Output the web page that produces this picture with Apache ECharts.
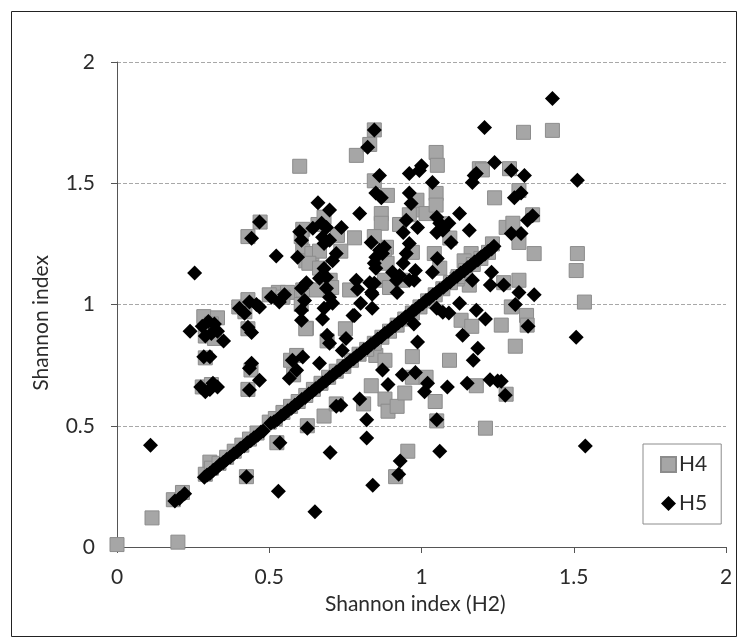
<!DOCTYPE html>
<html>
<head>
<meta charset="utf-8">
<script src="https://cdn.jsdelivr.net/npm/echarts@6/dist/echarts.min.js"></script>
<style>
html,body{margin:0;padding:0;background:#fff;}
#chart{width:744px;height:643px;}
</style>
</head>
<body>
<div id="chart"></div>
<script>
// Axis ticks
const xTicks = [0, 0.5, 1, 1.5, 2];
const yTicks = [0, 0.5, 1, 1.5, 2];
const seriesNames = ['H4', 'H5'];
const xTitle = 'Shannon index (H2)';
const yTitle = 'Shannon index';

// H4 points off the diagonal [H2, H4]
const h4Off = [
[0.00,0.01],[0.115,0.12],[0.20,0.02],
[0.305,0.35],[0.285,0.95],[0.33,0.945],[0.29,0.87],[0.31,0.92],[0.32,0.86],[0.28,0.66],[0.31,0.67],[0.29,0.78],
[0.40,0.99],[0.42,0.97],[0.43,0.90],[0.43,1.02],[0.44,0.73],[0.43,0.65],[0.425,0.29],[0.43,1.28],[0.47,1.34],
[0.525,0.43],[0.53,1.05],[0.56,1.05],[0.50,1.04],[0.545,1.03],
[0.57,0.77],[0.59,0.79],[0.58,0.71],[0.622,0.902],
[0.60,1.57],[0.61,1.31],[0.605,1.28],[0.61,1.22],[0.62,1.18],[0.64,1.21],[0.665,1.22],[0.63,1.17],
[0.605,1.0],[0.62,0.90],[0.61,1.06],[0.625,0.50],[0.655,1.06],[0.665,1.15],
[0.68,0.54],[0.72,0.59],[0.69,0.85],[0.70,1.10],[0.705,1.07],[0.724,1.285],[0.735,1.22],[0.66,1.33],[0.68,1.36],
[0.75,0.90],[0.764,1.06],[0.78,1.275],[0.786,1.615],[0.81,0.59],[0.835,0.665],[0.85,0.79],[0.88,0.77],
[0.845,1.72],[0.83,1.66],[0.845,1.51],[0.888,1.45],[0.868,1.375],[0.868,1.335],[0.885,1.236],[0.878,1.195],[0.887,1.17],[0.878,1.10],[0.895,1.07],[0.845,1.28],
[0.88,0.61],[0.89,0.56],[0.92,0.58],[0.945,0.635],[0.97,0.70],[1.015,0.70],[0.97,0.785],[0.955,0.395],[0.915,0.29],
[0.928,1.33],[0.977,1.39],[0.97,1.215],[0.934,1.10],[0.96,1.37],[0.985,1.43],[1.015,1.375],
[1.048,1.627],[1.052,1.574],[1.048,1.458],[1.048,1.41],[1.07,1.333],[1.042,1.21],[1.06,1.15],[1.093,1.274],
[1.045,0.60],[1.05,0.52],[1.092,0.77],[1.13,0.935],[1.165,0.91],[1.18,0.665],[1.21,0.49],
[1.19,1.56],[1.2,1.555],[1.24,1.44],[1.233,1.25],[1.278,1.318],[1.163,1.21],[1.14,1.18],[1.157,1.08],[1.117,1.105],
[1.289,1.56],[1.32,1.47],[1.365,1.37],[1.30,1.335],[1.32,1.256],[1.37,1.21],[1.32,1.10],[1.27,1.09],
[1.335,1.71],[1.43,1.718],[1.512,1.21],[1.508,1.14],[1.535,1.01],
[1.295,0.99],[1.345,0.955],[1.347,0.915],[1.262,0.915],[1.308,0.828],[1.278,0.63]
];

// H4 points on/near the diagonal
const h4Diag = [
[0.185,0.195],[0.215,0.225],[0.29,0.3],[0.31,0.325],[0.335,0.345],[0.36,0.37],[0.385,0.395],[0.41,0.42],[0.435,0.445],[0.46,0.47],
[0.5,0.515],[0.52,0.53],[0.545,0.555],[0.57,0.58],[0.595,0.6],[0.62,0.625],[0.645,0.65],[0.67,0.675],[0.695,0.7],[0.72,0.725],
[0.745,0.745],[0.77,0.77],[0.795,0.795],[0.82,0.815],[0.845,0.84],[0.87,0.865],[0.895,0.89],[0.92,0.915],[0.945,0.94],[0.97,0.965],
[0.995,0.99],[1.02,1.015],[1.045,1.04],[1.07,1.065],[1.095,1.09],[1.12,1.115],[1.145,1.14],[1.17,1.165],[1.195,1.19],[1.22,1.215]
];

// H5 points off the diagonal [H2, H5]
const h5Off = [
[0.11,0.42],[0.255,1.13],[0.24,0.89],
[0.28,0.91],[0.30,0.93],[0.32,0.92],[0.33,0.89],[0.35,0.85],[0.29,0.87],[0.31,0.88],
[0.285,0.785],[0.305,0.785],
[0.275,0.66],[0.29,0.64],[0.315,0.675],[0.33,0.66],[0.305,0.65],
[0.402,0.985],[0.419,0.964],[0.435,1.01],[0.458,1.0],[0.468,0.99],[0.507,1.03],[0.533,1.01],[0.55,1.04],
[0.43,0.906],[0.442,0.885],
[0.442,1.273],[0.468,1.34],
[0.442,0.758],[0.435,0.737],[0.468,0.688],[0.435,0.647],
[0.425,0.29],[0.535,0.43],[0.53,0.23],
[0.523,1.2],
[0.576,0.77],[0.61,0.783],[0.59,0.729],[0.566,0.696],
[0.593,1.195],[0.6,1.3],[0.606,1.265],
[0.606,1.067],[0.622,1.09],[0.616,1.017],[0.606,0.976],[0.606,0.935],
[0.625,0.49],[0.65,0.145],
[0.66,1.42],[0.698,1.39],
[0.643,1.314],[0.672,1.335],[0.688,1.318],[0.675,1.277],[0.68,1.252],[0.698,1.265],[0.737,1.318],
[0.72,1.21],[0.708,1.18],[0.68,1.148],[0.688,1.112],
[0.665,1.108],[0.688,1.067],[0.698,1.03],[0.708,1.005],[0.68,0.985],[0.675,0.94],
[0.69,0.873],[0.698,0.84],[0.74,0.81],[0.752,0.86],[0.665,0.758],
[0.70,0.39],[0.735,0.585],[0.72,0.58],
[0.775,0.955],[0.797,1.375],
[0.786,1.1],[0.83,1.09],[0.79,1.063],[0.838,1.042],[0.80,1.005],
[0.78,0.955],[0.838,0.985],
[0.797,0.61],[0.82,0.525],[0.82,0.45],[0.84,0.255],
[0.823,1.648],[0.845,1.72],[0.862,1.532],[0.85,1.46],[0.868,1.44],
[0.835,1.256],[0.878,1.236],[0.862,1.224],[0.872,1.21],[0.85,1.195],[0.845,1.17],[0.85,1.15],
[0.845,1.088],[0.836,1.05],
[0.872,0.73],[0.89,0.67],[0.937,0.71],[0.98,0.72],
[0.93,0.355],[0.925,0.30],
[0.96,1.54],[1.0,1.572],[0.993,1.553],[1.036,1.503],[0.96,1.46],[0.966,1.417],
[0.95,1.347],[0.987,1.318],[0.94,1.297],[0.96,1.252],[0.95,1.21],[0.94,1.17],
[0.905,1.133],[0.928,1.12],[0.918,1.1],[0.96,1.1],[0.98,1.14],[0.976,1.1],[0.92,1.05],
[0.987,0.845],[0.975,0.92],
[1.05,1.36],[1.06,1.335],[1.07,1.306],[1.05,1.297],[1.09,1.335],
[1.036,1.133],[1.052,1.19],
[1.125,1.375],[1.157,1.306],[1.097,1.256],
[1.125,1.005],[1.07,0.968],[1.05,0.985],[1.09,0.965],
[1.135,0.873],[1.02,0.675],[1.01,0.64],[1.05,0.525],[1.06,0.395],[1.085,0.66],[1.15,0.675],
[1.167,1.503],[1.173,1.532],[1.18,1.54],
[1.207,1.73],[1.24,1.586],
[1.23,1.133],[1.167,1.1],[1.226,1.08],[1.27,1.08],
[1.18,0.976],[1.21,0.94],[1.185,0.82],[1.17,0.77],
[1.225,0.69],[1.25,0.685],[1.262,0.684],[1.275,0.626],
[1.295,1.553],[1.338,1.532],[1.305,1.44],[1.327,1.46],
[1.348,1.347],[1.365,1.366],[1.295,1.293],[1.327,1.293],
[1.32,1.05],[1.37,1.04],[1.308,1.0],[1.35,0.91],
[1.43,1.85],[1.512,1.512],[1.508,0.865],[1.538,0.416]
];

// H5 points on the diagonal
const h5Diag = [
[0.19,0.19],[0.205,0.2],[0.222,0.22],
[0.287,0.288],[0.296,0.297],[0.305,0.303],[0.316,0.317],[0.327,0.326],[0.338,0.34],[0.349,0.348],[0.36,0.361],[0.372,0.371],[0.383,0.384],[0.394,0.393],[0.405,0.406],[0.417,0.416],[0.428,0.43],[0.439,0.438],[0.45,0.451],[0.462,0.461],[0.473,0.474],[0.48,0.478],
[0.505,0.51],[0.516,0.517],[0.527,0.526],[0.539,0.54],[0.55,0.549],[0.561,0.562],[0.573,0.572],[0.584,0.585],[0.596,0.595],[0.607,0.608],[0.618,0.617],[0.63,0.631],[0.641,0.64],[0.652,0.653],[0.664,0.663],[0.675,0.676],[0.686,0.685],[0.698,0.699],[0.709,0.708],[0.72,0.721],[0.732,0.731],[0.743,0.744],[0.754,0.753],[0.766,0.767],[0.777,0.776],[0.788,0.789],[0.8,0.799],[0.811,0.812],[0.822,0.821],[0.834,0.835],[0.845,0.844],[0.856,0.857],[0.868,0.867],[0.879,0.88],[0.89,0.889],[0.902,0.903],[0.913,0.912],[0.924,0.925],[0.936,0.935],[0.947,0.948],[0.958,0.957],[0.97,0.971],[0.981,0.98],[0.992,0.993],[1.004,1.003],[1.015,1.016],[1.026,1.025],[1.038,1.039],[1.049,1.048],[1.06,1.061],[1.072,1.071],[1.083,1.084],[1.094,1.093],[1.106,1.107],[1.117,1.116],[1.128,1.129],[1.14,1.139],[1.151,1.152],[1.162,1.161],[1.174,1.175],[1.185,1.184],[1.196,1.197],[1.208,1.207],[1.219,1.22],[1.23,1.229],[1.238,1.24]
];

const FONT = 'Lato, "Open Sans", sans-serif';
const TXT = '#2b2b2b';
const AXC = '#555555';

const chart = echarts.init(document.getElementById('chart'), null, {renderer: 'canvas'});
chart.setOption({
  animation: false,
  backgroundColor: '#ffffff',
  textStyle: {fontFamily: FONT},
  grid: {left: 117, top: 62, width: 609, height: 485, containLabel: false},
  xAxis: {
    type: 'value', min: xTicks[0], max: xTicks[xTicks.length - 1], interval: 0.5,
    axisLine: {show: true, lineStyle: {color: AXC, width: 1}},
    axisTick: {show: true, length: 6, inside: false, lineStyle: {color: AXC}},
    axisLabel: {fontSize: 21, color: TXT, margin: 20, fontFamily: FONT},
    splitLine: {show: false}
  },
  yAxis: {
    type: 'value', min: yTicks[0], max: yTicks[yTicks.length - 1], interval: 0.5,
    axisLine: {show: true, lineStyle: {color: AXC, width: 1}},
    axisTick: {show: true, length: 6, inside: false, lineStyle: {color: AXC}},
    axisLabel: {fontSize: 21, color: TXT, margin: 22, fontFamily: FONT},
    splitLine: {show: true, lineStyle: {color: '#a8a8a8', type: [4, 2], width: 1}}
  },
  legend: {
    orient: 'vertical', left: 643, top: 444,
    backgroundColor: '#fff', borderColor: '#8c8c8c', borderWidth: 1,
    padding: [10, 14, 10, 17], itemGap: 18, itemWidth: 15, itemHeight: 15,
    textStyle: {fontSize: 21, color: TXT, fontFamily: FONT, padding: [0, 0, 0, -2]},
    data: [
      {name: seriesNames[0], icon: 'rect'},
      {name: seriesNames[1], icon: 'diamond'}
    ]
  },
  graphic: [
    {type: 'rect', left: 9, top: 9, silent: true, z: -1,
     shape: {x: 0, y: 0, width: 725, height: 625},
     style: {fill: 'none', stroke: '#222', lineWidth: 1}},
    {type: 'text', left: 325, top: 594, silent: true,
     style: {text: xTitle, font: '21px ' + FONT, fill: TXT}},
    {type: 'text', rotation: Math.PI / 2, left: 31, top: 255, silent: true,
     style: {text: yTitle, font: '21px ' + FONT, fill: TXT}}
  ],
  series: [
    {
      name: seriesNames[0], type: 'scatter', symbol: 'rect', symbolSize: 14,
      itemStyle: {color: '#a6a6a6', borderColor: '#8c8c8c', borderWidth: 1, opacity: 1},
      data: h4Off.concat(h4Diag), z: 2
    },
    {
      name: seriesNames[1], type: 'scatter', symbol: 'diamond', symbolSize: 15,
      itemStyle: {color: '#000000', opacity: 1},
      data: h5Off.concat(h5Diag), z: 3
    }
  ]
});
</script>
</body>
</html>
